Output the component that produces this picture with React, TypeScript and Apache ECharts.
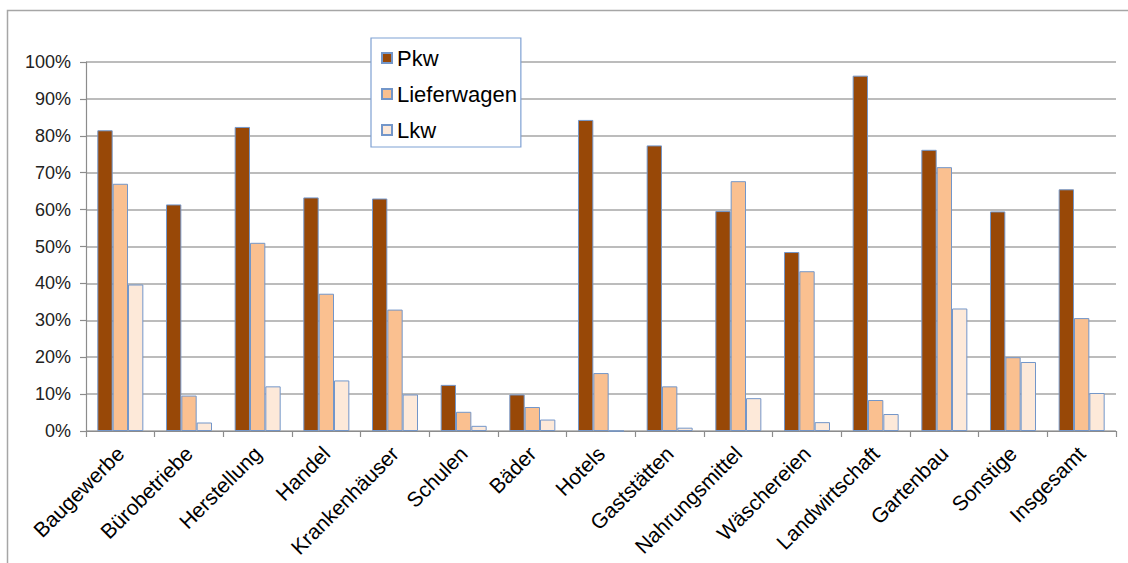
import React, { useEffect, useRef } from "react";
import * as echarts from "echarts";

const categories = [
  "Baugewerbe",
  "Bürobetriebe",
  "Herstellung",
  "Handel",
  "Krankenhäuser",
  "Schulen",
  "Bäder",
  "Hotels",
  "Gaststätten",
  "Nahrungsmittel",
  "Wäschereien",
  "Landwirtschaft",
  "Gartenbau",
  "Sonstige",
  "Insgesamt",
];

const pkw = [81.5, 61.4, 82.4, 63.3, 63.0, 12.5, 9.9, 84.3, 77.4, 59.6, 48.5, 96.3, 76.2, 59.5, 65.5];
const lieferwagen = [67.0, 9.6, 51.0, 37.2, 32.9, 5.2, 6.5, 15.7, 12.1, 67.7, 43.3, 8.4, 71.5, 20.0, 30.6];
const lkw = [39.7, 2.3, 12.1, 13.7, 9.9, 1.4, 3.1, 0, 0.9, 8.9, 2.4, 4.6, 33.2, 18.7, 10.3];

const seriesNames = ["Pkw", "Lieferwagen", "Lkw"];
const seriesColors = ["#984807", "#FAC090", "#FDE9D9"];

export default function App() {
  const ref = useRef<HTMLDivElement>(null);

  useEffect(() => {
    if (!ref.current) return;
    const chart = echarts.init(ref.current, null, { renderer: "svg" });
    const font = "'Liberation Sans', Arial, sans-serif";
    const dataSets = [pkw, lieferwagen, lkw];
    chart.setOption({
      animation: false,
      backgroundColor: "#ffffff",
      textStyle: { fontFamily: font },
      graphic: [
        {
          type: "rect",
          shape: { x: 7.5, y: 10.5, width: 1200, height: 700 },
          style: { fill: "none", stroke: "#a6a6a6", lineWidth: 1.5 },
          silent: true,
        },
      ],
      grid: {
        left: 86,
        right: 12,
        top: 62,
        bottom: 132,
        containLabel: false,
        outerBoundsMode: "none",
      },
      legend: {
        orient: "vertical",
        left: 371,
        top: 38,
        padding: [9, 4, 6, 10],
        itemGap: 14,
        itemWidth: 10,
        itemHeight: 10,
        itemTextGap: 5,
        icon: "rect",
        backgroundColor: "#ffffff",
        borderColor: "#7fa1d3",
        borderWidth: 1.2,
        textStyle: { fontSize: 22, color: "#000", fontFamily: font, lineHeight: 22 },
        data: seriesNames,
      },
      xAxis: {
        type: "category",
        data: categories,
        axisLine: { show: true, lineStyle: { color: "#8c8c8c", width: 1.2 } },
        axisTick: { show: true, length: 6, lineStyle: { color: "#8c8c8c", width: 1.2 } },
        axisLabel: {
          interval: 0,
          rotate: 45,
          fontSize: 21,
          color: "#000",
          fontFamily: font,
          margin: 19,
        },
      },
      yAxis: {
        type: "value",
        min: 0,
        max: 100,
        interval: 10,
        axisLine: { show: true, lineStyle: { color: "#8c8c8c", width: 1.2 } },
        axisTick: { show: true, length: 6, lineStyle: { color: "#8c8c8c", width: 1.2 } },
        splitLine: { show: true, lineStyle: { color: "#a6a6a6", width: 1.5 } },
        axisLabel: {
          fontSize: 18,
          color: "#222",
          fontFamily: font,
          margin: 15,
          formatter: (v: number) => `${v}%`,
        },
      },
      series: seriesNames.map((name, i) => ({
        name,
        type: "bar",
        data: dataSets[i],
        barGap: "0%",
        barCategoryGap: "33%",
        itemStyle: {
          color: seriesColors[i],
          borderColor: "#7396c9",
          borderWidth: 1,
        },
      })),
    });
    return () => chart.dispose();
  }, []);

  return (
    <div
      ref={ref}
      style={{ position: "fixed", left: 0, top: 0, width: 1128, height: 563 }}
    />
  );
}
